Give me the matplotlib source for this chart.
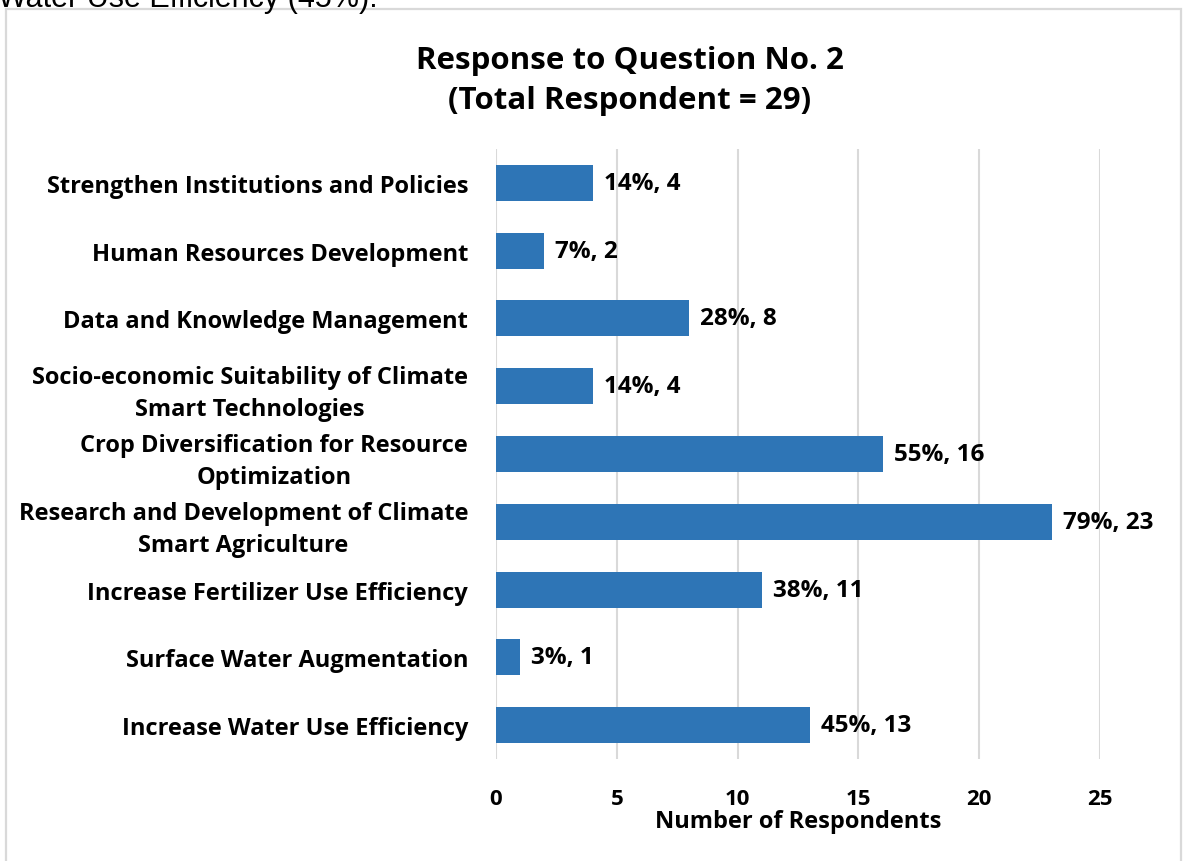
import matplotlib.pyplot as plt
from matplotlib.patches import Rectangle

BAR_COLOR = "#2E75B6"
GRID_COLOR = "#d9d9d9"

categories = [
    "Strengthen Institutions and Policies",
    "Human Resources Development",
    "Data and Knowledge Management",
    "Socio-economic Suitability of Climate\nSmart Technologies",
    "Crop Diversification for Resource\nOptimization",
    "Research and Development of Climate\nSmart Agriculture",
    "Increase Fertilizer Use Efficiency",
    "Surface Water Augmentation",
    "Increase Water Use Efficiency",
]
counts = [4, 2, 8, 4, 16, 23, 11, 1, 13]
percents = [14, 7, 28, 14, 55, 79, 38, 3, 45]
xticks = [0, 5, 10, 15, 20, 25]

plt.rcParams["font.family"] = ["Open Sans", "DejaVu Sans"]
plt.rcParams["font.weight"] = "bold"

W, H = 1183, 862
fig = plt.figure(figsize=(W / 100, H / 100), dpi=100)

# caption text from the surrounding page, cut off at the top edge
fig.text(-2 / W, 1 - 7 / H, "Water Use Efficiency (45%).", family="Liberation Sans",
         fontweight="normal", fontsize=22, ha="left", va="baseline", color="black")

# chart frame
fig.patches.append(Rectangle((6 / W, -0.05), 1175 / W, 1.05 - 10 / H,
                             transform=fig.transFigure, fill=False,
                             edgecolor=GRID_COLOR, linewidth=1.6))

ax = fig.add_axes([496 / W, 1 - 760 / H, 604 / W, 610 / H])
ypos = list(range(len(categories)))
ax.barh(ypos, counts, height=0.53, color=BAR_COLOR, zorder=3)

for y, c, p in zip(ypos, counts, percents):
    ax.annotate(f"{p}%, {c}", (c, y), xytext=(8, 0), textcoords="offset points",
                ha="left", va="center", fontsize=17.5, fontweight="bold", zorder=4)

ax.set_xlim(0, 25)
ax.set_ylim(len(categories) - 0.5, -0.5)
ax.set_xticks(xticks)
ax.set_xticklabels([str(t) for t in xticks], fontsize=16, fontweight="bold")
ax.set_yticks(ypos)
ax.set_yticklabels(categories, fontsize=17, fontweight="bold", linespacing=1.45)
for lbl in ax.get_yticklabels():
    lbl.set_multialignment("center")
ax.tick_params(axis="both", length=0)
ax.tick_params(axis="x", pad=21)
ax.tick_params(axis="y", pad=20)
ax.xaxis.grid(True, color=GRID_COLOR, linewidth=1.5, zorder=0)
for s in ax.spines.values():
    s.set_visible(False)

ax.set_xlabel("Number of Respondents", fontsize=17, fontweight="bold", labelpad=0)
fig.text(630 / W, 1 - 81 / H, "Response to Question No. 2\n(Total Respondent = 29)",
         fontsize=22.5, fontweight="bold", ha="center", va="center",
         multialignment="center", linespacing=1.45)

fig.savefig("out.png", dpi=100)
